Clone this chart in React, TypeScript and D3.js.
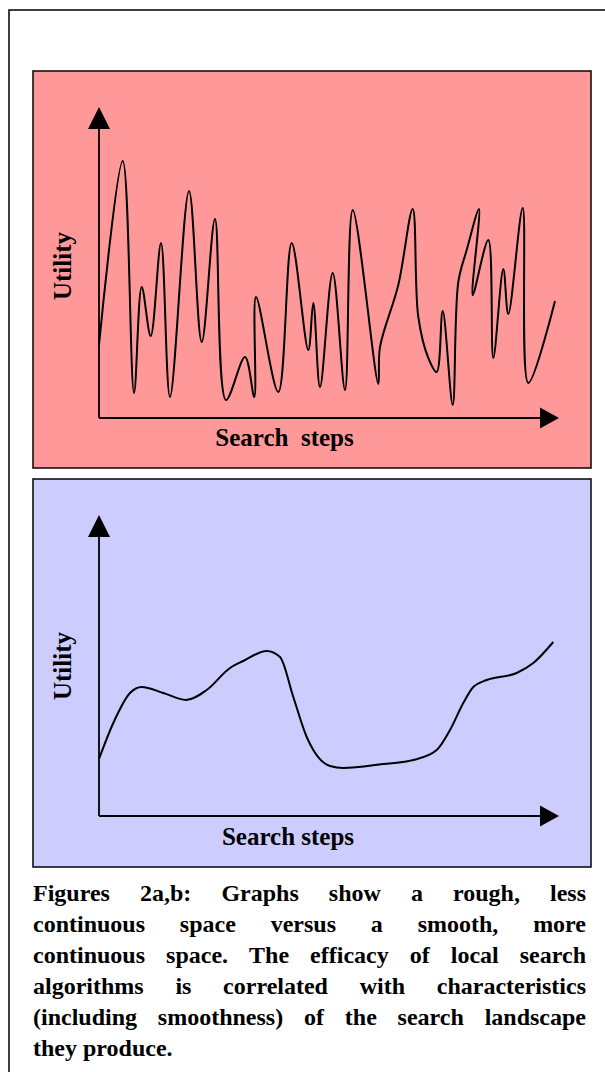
import React, { useEffect, useRef } from 'react';
import * as d3 from 'd3';

// Rough landscape (figure 2a) — arbitrary units: step, utility
const roughSteps = [0, 23.7, 35, 42.7, 51.7, 62, 71, 90, 102.7, 116, 127, 146, 155.3, 157, 179.3, 192.7, 209.3, 214.3, 221, 233.7, 246, 253.7, 279.3, 281, 299.3, 313.7, 319.3, 329.3, 337.7, 343.7, 353.7, 359.3, 367.7, 380, 373.7, 389.3, 394.3, 404.3, 409.3, 423.7, 429.3, 456];
const roughUtility = [73, 257, 25, 131, 82, 175, 21, 227, 76, 199, 18, 61, 21, 121, 26, 175, 68, 115, 31, 145, 28, 208, 34, 71, 133, 209, 101, 60, 46, 107, 13, 136, 168, 209, 123, 178, 60, 149, 104, 210, 35, 117];

// Smooth landscape (figure 2b)
const smoothSteps = [0, 14.3, 31, 42.7, 64.3, 87, 107.7, 131, 144.3, 167.7, 181, 194.3, 207.7, 214.3, 231, 244.3, 284.3, 314.3, 337.7, 351, 364.3, 374.3, 387.7, 417.7, 434.3, 454.3];
const smoothUtility = [57, 93, 123, 129, 123, 116, 126, 148, 155, 165, 159, 119, 79, 66, 50, 48, 52, 56, 66, 86, 113, 129, 136, 143, 153, 174];

const axisLabelX = 'Search steps';
const axisLabelXTop = 'Search  steps';
const axisLabelY = 'Utility';

const captionLines = [
  'Figures 2a,b: Graphs show a rough, less',
  'continuous space versus a smooth, more',
  'continuous space. The efficacy of local search',
  'algorithms is correlated with characteristics',
  '(including smoothness) of the search landscape',
  'they produce.',
];

const FONT = '"Liberation Serif", "Times New Roman", serif';

export default function App() {
  const ref = useRef<SVGSVGElement | null>(null);

  useEffect(() => {
    const svg = d3.select(ref.current);
    svg.selectAll('*').remove();

    // outer frame
    svg.append('rect')
      .attr('x', 9).attr('y', 10).attr('width', 700).attr('height', 1200)
      .attr('fill', '#fff').attr('stroke', '#000').attr('stroke-width', 1.5);

    const panels = [
      { y0: 71, y1: 468, fill: '#FF9999', axisY: 418, topY: 107, steps: roughSteps, util: roughUtility, yMax: 311, curve: d3.curveCatmullRom.alpha(0.5), xl: axisLabelXTop, xlx: 284.5, xly: 446, uly: 266 },
      { y0: 479, y1: 867, fill: '#CCCCFF', axisY: 816, topY: 515, steps: smoothSteps, util: smoothUtility, yMax: 301, curve: d3.curveMonotoneX, xl: axisLabelX, xlx: 288, xly: 845, uly: 666 },
    ];

    panels.forEach((p) => {
      const g = svg.append('g');
      g.append('rect')
        .attr('x', 33).attr('y', p.y0).attr('width', 558).attr('height', p.y1 - p.y0)
        .attr('fill', p.fill).attr('stroke', '#111').attr('stroke-width', 1.6);

      const x = d3.scaleLinear().domain([0, 460]).range([99, 559]);
      const y = d3.scaleLinear().domain([0, p.yMax]).range([p.axisY, p.topY]);

      // axes
      g.append('line').attr('x1', x(0)).attr('x2', x(441)).attr('y1', p.axisY).attr('y2', p.axisY)
        .attr('stroke', '#000').attr('stroke-width', 1.8);
      g.append('line').attr('x1', x(0)).attr('x2', x(0)).attr('y1', p.axisY).attr('y2', y(p.yMax - 20))
        .attr('stroke', '#000').attr('stroke-width', 1.8);
      // arrowheads
      g.append('path')
        .attr('d', `M${x(460)},${p.axisY} L${x(441)},${p.axisY - 10.5} L${x(441)},${p.axisY + 10.5} Z`)
        .attr('fill', '#000');
      g.append('path')
        .attr('d', `M${x(0)},${y(p.yMax)} L${x(0) - 11},${y(p.yMax - 22)} L${x(0) + 11},${y(p.yMax - 22)} Z`)
        .attr('fill', '#000');

      const pts: [number, number][] = p.steps.map((s, i) => [s, p.util[i]]);
      const line = d3.line<[number, number]>()
        .x((d) => x(d[0]))
        .y((d) => y(d[1]))
        .curve(p.curve as any);
      g.append('path').attr('d', line(pts) || '')
        .attr('fill', 'none').attr('stroke', '#000').attr('stroke-width', 2)
        .attr('stroke-linejoin', 'round');

      g.append('text')
        .attr('x', p.xlx).attr('y', p.xly)
        .attr('text-anchor', 'middle')
        .attr('font-family', FONT).attr('font-weight', 'bold').attr('font-size', 25)
        .style('white-space', 'pre')
        .text(p.xl);

      g.append('text')
        .attr('transform', `translate(71,${p.uly}) rotate(-90)`)
        .attr('text-anchor', 'middle')
        .attr('font-family', FONT).attr('font-weight', 'bold').attr('font-size', 25)
        .text(axisLabelY);
    });

    // caption, justified between x=33 and x=586
    const left = 33, right = 586;
    captionLines.forEach((ln, li) => {
      const baseline = 901 + li * 31;
      const words = ln.split(' ');
      const nodes = words.map((w) =>
        svg.append('text')
          .attr('y', baseline)
          .attr('font-family', FONT).attr('font-weight', 'bold').attr('font-size', 24)
          .text(w)
      );
      const widths = nodes.map((n) => (n.node() as SVGTextElement).getComputedTextLength());
      const total = widths.reduce((a, b) => a + b, 0);
      const last = li === captionLines.length - 1;
      const gap = last || words.length < 2 ? 6 : (right - left - total) / (words.length - 1);
      let cx = left;
      nodes.forEach((n, i) => {
        n.attr('x', cx);
        cx += widths[i] + gap;
      });
    });
  }, []);

  return (
    <svg
      ref={ref}
      width={605}
      height={1072}
      style={{ position: 'absolute', left: 0, top: 0, display: 'block', background: '#fff' }}
    />
  );
}
